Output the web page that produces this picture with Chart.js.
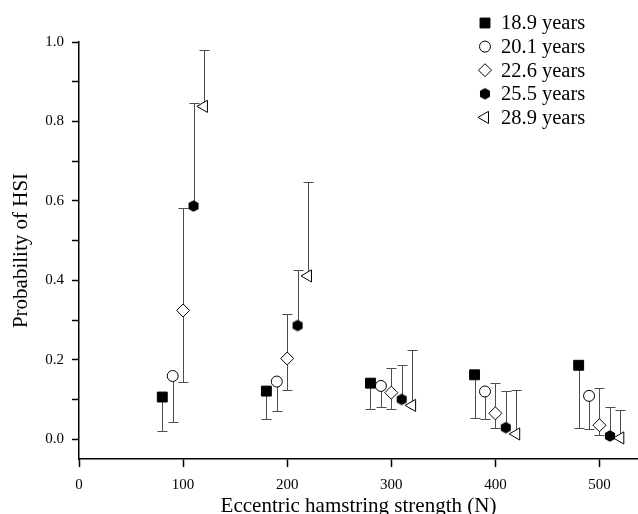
<!DOCTYPE html>
<html>
<head>
<meta charset="utf-8">
<script src="https://cdn.jsdelivr.net/npm/chart.js@4.4.1/dist/chart.umd.min.js"></script>
<style>
    html, body { margin: 0; padding: 0; background: #fff; }
    #wrap { width: 638px; height: 514px; }
</style>
</head>
<body>
<div id="wrap"><canvas id="hsiChart" width="638" height="514"></canvas></div>
<script>

// series labels
const seriesLabels = ["18.9 years", "20.1 years", "22.6 years", "25.5 years", "28.9 years"];

// strength (N), probability, lower and upper end of each bar
const strength189 = [80, 180, 280, 380, 480];
const prob189     = [0.106, 0.121, 0.141, 0.162, 0.186];
const low189      = [0.021, 0.050, 0.075, 0.054, 0.029];
const high189     = [0.106, 0.121, 0.141, 0.162, 0.186];

const strength201 = [90, 190, 290, 390, 490];
const prob201     = [0.159, 0.145, 0.134, 0.120, 0.109];
const low201      = [0.044, 0.070, 0.080, 0.050, 0.025];
const high201     = [0.159, 0.145, 0.134, 0.120, 0.109];

const strength226 = [100, 200, 300, 400, 500];
const prob226     = [0.324, 0.203, 0.117, 0.065, 0.035];
const low226      = [0.143, 0.123, 0.075, 0.028, 0.010];
const high226     = [0.582, 0.315, 0.178, 0.142, 0.128];

const strength255 = [110, 210, 310, 410, 510];
const prob255     = [0.587, 0.286, 0.100, 0.029, 0.008];
const low255      = [0.587, 0.286, 0.100, 0.029, 0.008];
const high255     = [0.847, 0.426, 0.186, 0.120, 0.081];

const strength289 = [120, 220, 320, 420, 520];
const prob289     = [0.838, 0.411, 0.085, 0.013, 0.003];
const low289      = [0.838, 0.411, 0.085, 0.013, 0.003];
const high289     = [0.980, 0.647, 0.224, 0.124, 0.073];

// ticks
const xTickValues = [0, 100, 200, 300, 400, 500];
const yTickValues = [0, 0.1, 0.2, 0.3, 0.4, 0.5, 0.6, 0.7, 0.8, 0.9, 1.0];
const yTickLabels = ["0.0", "", "0.2", "", "0.4", "", "0.6", "", "0.8", "", "1.0"];

const serif = "'Liberation Serif', 'Times New Roman', serif";

function makeHexagon(r){

    const c = document.createElement("canvas");
    const size = Math.ceil(r * 2) + 2;
    c.width = size;
    c.height = size;

    const g = c.getContext("2d");
    g.beginPath();
    for (let i = 0; i < 6; i++) {
        const a = Math.PI / 3 * i - Math.PI / 2;
        const px = size / 2 + r * Math.cos(a);
        const py = size / 2 + r * Math.sin(a);
        if (i === 0) g.moveTo(px, py); else g.lineTo(px, py);
    }
    g.closePath();
    g.fillStyle = "#000";
    g.fill();

    return c;
}

const hexagon = makeHexagon(5.8);

function toPoints(xs, ys, lows, highs){

    return xs.map((x, i) => ({ x: x, y: ys[i], lo: lows[i], hi: highs[i] }));

}

const markerStyles = [
    { pointStyle: "rect",     radius: 7,   rotation: 0,   bg: "#000" },
    { pointStyle: "circle",   radius: 5.5, rotation: 0,   bg: "#fff" },
    { pointStyle: "rectRot",  radius: 6.5, rotation: 0,   bg: "#fff" },
    { pointStyle: hexagon,    radius: 6,   rotation: 0,   bg: "#000" },
    { pointStyle: "triangle", radius: 7,   rotation: -90, bg: "#fff" }
];

const seriesPoints = [
    toPoints(strength189, prob189, low189, high189),
    toPoints(strength201, prob201, low201, high201),
    toPoints(strength226, prob226, low226, high226),
    toPoints(strength255, prob255, low255, high255),
    toPoints(strength289, prob289, low289, high289)
];

const errorBars = {

    id: "errorBars",

    beforeDatasetsDraw(chart){

        const ctx = chart.ctx;
        const xs = chart.scales.x;
        const ys = chart.scales.y;

        ctx.save();
        ctx.strokeStyle = "#4d4d4d";
        ctx.lineWidth = 1;

        chart.data.datasets.forEach(ds => {
            ds.data.forEach(pt => {
                const px = Math.round(xs.getPixelForValue(pt.x)) + 0.5;
                const top = Math.round(ys.getPixelForValue(pt.hi)) + 0.5;
                const bot = Math.round(ys.getPixelForValue(pt.lo)) + 0.5;
                ctx.beginPath();
                ctx.moveTo(px, top);
                ctx.lineTo(px, bot);
                if (pt.hi > pt.y) {
                    ctx.moveTo(px - 5, top);
                    ctx.lineTo(px + 5, top);
                }
                if (pt.lo < pt.y) {
                    ctx.moveTo(px - 5, bot);
                    ctx.lineTo(px + 5, bot);
                }
                ctx.stroke();
            });
        });

        ctx.restore();
    }

};

const cornerLegend = {

    id: "cornerLegend",

    afterDraw(chart){

        const ctx = chart.ctx;
        const markX = 485;
        const textX = 501;
        const firstY = 23;
        const rowGap = 23.6;

        ctx.save();
        ctx.font = "20.5px " + serif;
        ctx.fillStyle = "#000";
        ctx.textBaseline = "middle";
        ctx.textAlign = "left";

        seriesLabels.forEach((label, i) => {
            const y = firstY + i * rowGap;
            const m = markerStyles[i];
            ctx.save();
            ctx.fillStyle = m.bg;
            ctx.strokeStyle = "#000";
            ctx.lineWidth = 1;
            Chart.helpers.drawPoint(ctx, {
                pointStyle: m.pointStyle,
                radius: m.radius,
                rotation: m.rotation,
                borderWidth: 1
            }, markX, y);
            ctx.restore();
            ctx.fillText(label, textX, y + 1);
        });

        ctx.restore();
    }

};

const ctx = document.getElementById("hsiChart");

new Chart(ctx, {

    type: "scatter",

    data: {

        datasets: seriesPoints.map((pts, i) => ({

            label: seriesLabels[i],

            data: pts,

            pointStyle: markerStyles[i].pointStyle,

            pointRadius: markerStyles[i].radius,

            pointRotation: markerStyles[i].rotation,

            pointBackgroundColor: markerStyles[i].bg,

            pointBorderColor: "#000",

            pointBorderWidth: 1,

            showLine: false

        }))

    },

    options: {

        responsive: false,

        animation: false,

        layout: {
            autoPadding: false,
            padding: { top: 42, right: 0, left: 0, bottom: 0 }
        },

        plugins: {
            legend: { display: false },
            tooltip: { enabled: false }
        },

        scales: {

            x: {
                type: "linear",
                min: 0,
                max: 537,
                afterFit: s => {
                    s.height = 55;
                    s.paddingLeft = 0;
                    s.paddingRight = 0;
                },
                afterBuildTicks: s => { s.ticks = xTickValues.map(v => ({ value: v })); },
                border: { color: "#000", width: 1.5 },
                grid: { drawOnChartArea: false, tickLength: 8, color: "#000", tickWidth: 1.5 },
                ticks: {
                    color: "#000",
                    padding: 9,
                    maxRotation: 0,
                    font: { family: serif, size: 15 },
                    callback: v => String(v)
                },
                title: {
                    display: true,
                    text: "Eccentric hamstring strength (N)",
                    color: "#000",
                    font: { family: serif, size: 21 },
                    padding: { top: 0, bottom: -5 }
                }
            },

            y: {
                type: "linear",
                min: -0.05,
                max: 1.0,
                afterFit: s => { s.width = 79; },
                afterBuildTicks: s => { s.ticks = yTickValues.map(v => ({ value: v })); },
                border: { color: "#000", width: 1.5 },
                grid: { drawOnChartArea: false, tickLength: 7, color: "#000", tickWidth: 1.5 },
                ticks: {
                    color: "#000",
                    padding: 8,
                    font: { family: serif, size: 15 },
                    callback: (v, i) => yTickLabels[i]
                },
                title: {
                    display: true,
                    text: "Probability of HSI",
                    color: "#000",
                    font: { family: serif, size: 21 },
                    padding: { top: 9, bottom: 0 }
                }
            }

        }

    },

    plugins: [errorBars, cornerLegend]

});

</script>
</body>
</html>
